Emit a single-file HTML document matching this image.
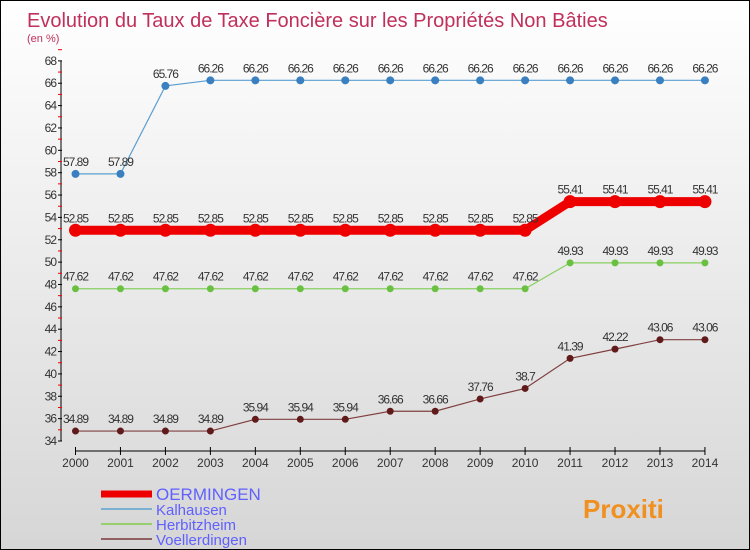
<!DOCTYPE html>
<html><head><meta charset="utf-8"><style>
body{margin:0;}
#c{width:748px;height:548px;border:1px solid #000;background:linear-gradient(#fff,#d6d6d6);position:relative;overflow:hidden;font-family:"Liberation Sans",sans-serif;}
</style></head><body>
<div id="c">
<svg id="s" width="748" height="548" xmlns="http://www.w3.org/2000/svg"></svg>
</div>
<script>
const years=[2000,2001,2002,2003,2004,2005,2006,2007,2008,2009,2010,2011,2012,2013,2014];
const oermingen=[52.85,52.85,52.85,52.85,52.85,52.85,52.85,52.85,52.85,52.85,52.85,55.41,55.41,55.41,55.41];
const kalhausen=[57.89,57.89,65.76,66.26,66.26,66.26,66.26,66.26,66.26,66.26,66.26,66.26,66.26,66.26,66.26];
const herbitzheim=[47.62,47.62,47.62,47.62,47.62,47.62,47.62,47.62,47.62,47.62,47.62,49.93,49.93,49.93,49.93];
const voellerdingen=[34.89,34.89,34.89,34.89,35.94,35.94,35.94,36.66,36.66,37.76,38.7,41.39,42.22,43.06,43.06];
const yTicks=[34,36,38,40,42,44,46,48,50,52,54,56,58,60,62,64,66,68];
const NS="http://www.w3.org/2000/svg";
const s=document.getElementById('s');
function X(i){return 74.5+i*44.96;}
function Y(v){return 440-(v-34)*11.18;}
function el(t,a,p){const e=document.createElementNS(NS,t);for(const k in a)e.setAttribute(k,a[k]);(p||s).appendChild(e);return e;}
function tx(x,y,str,a){const e=el('text',Object.assign({x:x,y:y},a));e.textContent=str;return e;}
let t=tx(26,26,'Evolution du Taux de Taxe Foncière sur les Propriétés Non Bâties',{'font-size':20,fill:'#c0305a'});

t=tx(26,41,'(en %)',{'font-size':11,fill:'#c0305a'});

let ax=el('line',{x1:60,y1:Y(68),x2:60,y2:Y(34),stroke:'#000'});

yTicks.forEach(v=>{el('line',{x1:57,x2:61,y1:Y(v),y2:Y(v),stroke:'#000'});
el('line',{x1:57,x2:61,y1:Y(v+1),y2:Y(v+1),stroke:'#e00'});
const l=tx(55,Y(v)+4,v,{'font-size':12,fill:'#333','text-anchor':'end','letter-spacing':'-1'});
});
ax=el('line',{x1:X(0),y1:450,x2:X(14),y2:450,stroke:'#000'});

years.forEach((y,i)=>{el('line',{x1:X(i),x2:X(i),y1:446,y2:454,stroke:'#000'});
const l=tx(X(i),466,y,{'font-size':12,fill:'#333','text-anchor':'middle'});
});
function series(vals,color,lw,r,dot,name){
 const g=el('g',{});
 el('polyline',{points:vals.map((v,i)=>X(i)+','+Y(v)).join(' '),fill:'none',stroke:color,'stroke-width':lw},g);
 vals.forEach((v,i)=>{const c=el('circle',{cx:X(i),cy:Y(v),r:r,fill:dot},g);
 
 tx(X(i),Y(v)-8,String(v).replace(/\.?0+$/,''),{'font-size':12,fill:'#333','text-anchor':'middle','letter-spacing':'-1'},g);});
}
series(kalhausen,'#5a9fd0',1.2,4,'#3a80c0','kalhausen');
series(herbitzheim,'#88d060',1.2,3.5,'#6ac040','herbitzheim');
series(voellerdingen,'#804040',1.2,3.5,'#601a1a','voellerdingen');
series(oermingen,'#ee0000',9,6.5,'#ee0000','oermingen');
const leg=[['OERMINGEN','#ee0000',7,493,17],['Kalhausen','#7ab0d0',2,508,15],['Herbitzheim','#98d070',2,523,15],['Voellerdingen','#906060',2,538,15]];
leg.forEach(d=>{const g=el('g',{});
el('line',{x1:100,x2:151,y1:d[3],y2:d[3],stroke:d[1],'stroke-width':d[2]},g);
tx(155,d[3]+6,d[0],{'font-size':d[4],fill:'#6060ff'},g);});
t=tx(582,517,'Proxiti',{'font-size':26,'font-weight':'bold',fill:'#f09020'});

</script>
</body></html>
